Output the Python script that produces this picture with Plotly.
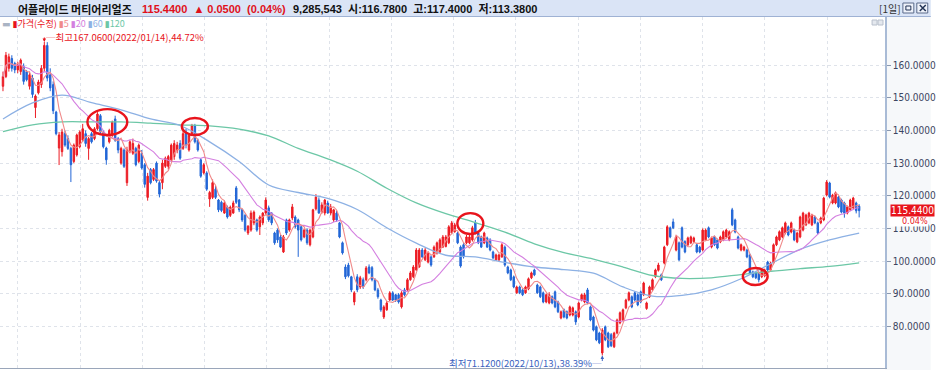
import plotly.graph_objects as go
import pandas as pd

# ---------------- data ----------------
opens = [153.5,156.5,159,162,160.5,158.5,158,159.5,158,153.5,156,147,151.5,154,159,166,157,154,145.6,134.6,
133.5,139,137.5,134.5,130.5,132.5,135,137,139,134.5,139,137.5,140.5,144.5,139.5,134.6,136.5,138.5,143.5,137.5,
130,134,124,133.5,133,134.5,130.5,133,129.5,119.5,128,125,130,124,124,129,129,131,132,134,
136,134.5,139.5,134,139,141.5,137,131,127,127,119,119.5,122,118.7,118,114.7,116.5,114,114.7,122.4,
118.7,115.7,114,108.6,109.5,111.7,112.6,110.5,111.7,114.7,116.3,114.7,108.6,109.5,107.4,102.8,112.6,109.5,113.2,113.5,
112.6,110.5,107.4,109.5,105,107.4,116,118.7,115,114.7,117.8,114.7,112.6,114.7,111.7,105.6,98.2,98.8,95.2,87.5,
95.2,92.1,94.3,94.3,98.2,98,94.3,91.2,88.1,82.9,85.1,88.1,90.3,89.7,89.7,86,91.2,91.2,94.3,95.2,
97.3,98.2,103.4,100.4,99.7,101.3,101.3,102.5,102.8,104.3,104.5,105.6,108.6,109,108.6,104.3,105,105.6,105.6,106.5,
111.7,108.6,107.4,105.6,107.1,106.5,102.8,100.4,100.4,101.3,104.3,98.2,97.3,95.2,90.3,92.1,91.2,90.3,91.5,94.9,
97.3,92.7,92.1,90.3,87.5,87.2,89.1,90.6,87.5,82.6,85.1,84.5,83.5,83.5,84.5,82.9,88.1,87.5,91.2,86,
82.9,79.9,78,71.9,79.9,78,77.5,73.8,78,81.1,82,85.7,88.1,89.1,90.3,89.7,90.6,89.7,85.5,89.1,
91.2,95.2,97.2,95.8,99.4,105,110.2,112,103.4,105.6,110.2,106,105,105.6,106,105,104.3,103.4,106.5,110.2,
104.3,107.4,106.5,105.9,106.5,107.4,106.5,115.7,112.6,107.4,103.4,103.4,103.4,101.9,96.7,96.4,96.4,95.2,95.5,99.7,
97.3,99.4,105,106.5,107.4,108.6,110.5,108.9,109.5,105.9,107.4,109.5,111.1,111.7,111.1,113.5,111.7,111.7,112.6,120.2,
123.9,117.8,117.8,119.6,118.7,117.8,114.7,115.7,116.3,117.8,116.78]
highs = [158,164,163.5,163,161,161,162,160.5,158.5,158,157,151,155.5,160,167.06,167,159,155,146,139.5,
140.5,140,138.5,135,136,139,140,142,140,138,139.5,141,145.6,145,140,135,140.5,143,144.5,138,
135,134.5,135,137,137.5,135,136,134,130,127,128.5,128.5,130.5,124.5,131,132,132.5,136,137,136.5,
137,140,140.5,139,142,142,137.5,131.5,130,127.5,121.5,125,123,119,118.5,118.5,117,117,118.5,123,
119,116,114.5,111,115.5,115.5,113,114,115,119.5,117,115,109,110,108,108,113,113,117.5,114,
113,111,110,110,110,116,120.5,119.5,118,119,118.5,117.5,116,115.5,112,106,99,99.5,95.5,90.8,
96,95.5,95,98.5,99,98.5,94.8,91.8,88.5,86.5,87.8,90.8,90.8,90,90.2,90.8,91.8,94.8,97,98.8,
104,104,104,104,103,101.8,104.8,106,107,108,108,111,112.3,111.7,109,104.8,105.5,108,108,110.8,
112.6,109,107.8,109,107.5,107,103.2,102.3,102.3,105.5,104.8,98.6,97.7,95.6,92.5,92.5,91.6,92.5,95,96.8,
97.7,93.1,92.5,90.7,90.1,90.5,89.5,91,87.9,84.9,85.5,84.9,86.4,86.1,84.9,87.6,90.1,90.3,91.8,86.4,
83.3,80.3,78.4,79.5,80.3,78.4,78,78.4,82.4,84.6,85.5,88.5,90.7,89.5,90.7,90.1,91,93.7,87.6,92.5,
94.7,97.7,99.5,96.2,104.7,111,110.6,113,107.8,106,110.6,106.4,107.5,107.8,107.5,105.4,104.7,110,110,110.6,
107.5,107.8,106.9,107.8,109.4,109.9,109.4,116.3,113,107.8,105.4,104.7,103.8,102.3,97.1,96.8,96.8,97.7,97.7,100.1,
99.8,105.4,107.8,109.4,110.6,112.1,110.9,112.1,109.9,109,113.9,115.1,114.5,115.1,114.5,113.9,112.1,113.6,119.7,124.8,
124.3,120.6,121.3,120,119.1,118.2,117,119.1,119.7,118.2,117.4]
lows = [152,156,158,158,157.5,157.5,157,154,155,152.5,150,143.8,151,153,158,155,152,145,138.5,129.4,
132,135,134,124.2,130,132,134.5,136.5,135,131,136,137,140,139,134.5,129.5,136,138,136.5,133,
129.5,128.5,123,133,132.5,129,130,128,122.5,118.5,123.5,124.5,124,119.5,122,128.5,128,130.5,131,133,
131,134,134.5,133.5,138.5,136,133.5,125.5,126.5,121.5,116.6,119,119,115,115,114.5,113,113.5,114.5,117.5,
115,112,109,108,109,111,109,108,111,114,112,111,105,105.6,104,102.5,108,109,112.5,110,
101.3,106,107,105,104.5,107,115.5,114.5,114.5,114,114.5,114,112,112,107,102,94.5,95,90.5,86.5,
90.5,91.5,91.5,93.8,96,93.8,90.8,88.5,84.5,82.3,84.8,87.8,87.8,87.5,87,85.5,89.2,90.8,94,94.8,
97,98,101,100,99.3,98.3,101,102,102.3,104,104.2,105.2,108.2,108.7,105.2,98,100.8,105.2,105.2,106,
108.2,105.2,104,105.2,104,103,100.6,100,100,101,98.3,96,93.9,91.7,90,89.9,89.3,90,91.1,94.5,
95.4,90,88.7,87.1,87.1,86.8,86.8,85.6,84.1,82.2,82.5,82.2,83.1,83.1,80.5,82.5,87.7,87.1,86.8,81.6,
78.5,75.5,74.6,71.12,75.5,73.4,73.7,73.4,77.6,80.7,81.6,85.3,87.7,85.6,87.7,86.2,87.1,89.3,85.1,88.7,
90.8,94.8,96.8,93.9,99,104.6,107,109.8,103,100,103.9,102.4,104.6,105.2,105.6,102.4,102.4,103,106.1,107,
103.9,104.6,103.6,105.5,106.1,107,106.1,110.7,108.5,103.6,103,103,100.9,96,94.8,94.5,93.5,94.8,95.1,96.9,
96.9,99,104.6,106.1,107,108.2,107.6,108.5,106.1,105.5,107,109.1,110.7,111.3,110.7,111.3,108.2,111.3,112.2,119.8,
119.2,117.4,117.4,116.2,114.6,113.3,114.3,115.3,115.9,114.6,113.38]
closes = [156.5,163,162.5,159,158.5,160,161.5,155,155.5,157,151,150.5,154.8,159,166,156,153,146,139,138.6,
139.5,135.5,134.5,129.5,135.5,138.6,139.5,140.5,136,137.5,136.5,140.5,145,139.5,135,131,140,142.5,137,134,
134.5,129,134,136.5,136,129.5,135.5,128.5,123.5,126,124,128,124.5,120.5,130,131.5,132,135.5,136,135.5,
131.5,139,135.5,138.5,141.5,136.5,134,126,129.5,122,121,124,119.5,115.7,115.5,117.8,113.5,116.5,117.8,118,
115.7,112.6,109.5,110.7,114.7,115,109.5,113.5,114.7,118.7,112.6,111.7,105.6,106.5,104.3,107.4,108.6,112.6,116.6,110.5,
109.5,106.5,109.5,105.6,109.5,115.7,119.6,114.7,117.2,118.7,114.7,116.6,115.7,112.6,107.4,102.5,95.2,95.5,91.2,90.3,
91.2,94.9,92.1,97.9,96.4,94.3,91.2,89.1,85.1,86,87.2,90.3,88.1,88.1,87.5,90.3,89.7,94.3,96.4,98.2,
103.4,103.4,101.3,103.4,102.5,98.8,104.3,105.6,106.5,107.4,107.4,110.5,111.7,111.1,105.6,98.5,101.3,107.4,107.4,110.2,
108.6,105.6,104.3,108.6,104.3,103.4,101,101.9,101.9,105,98.8,96.4,94.3,92.1,92.1,90.3,89.7,92.1,94.6,96.4,
95.8,90.3,89.1,87.5,89.7,89.7,87.2,86,84.5,84.5,82.9,82.6,86,85.7,81.4,87.2,89.7,89.7,87.2,82,
78.9,75.9,75,78.9,75.9,73.8,74.1,78,82,84.2,85.1,88.1,90.3,86,88.1,86.6,87.5,93.3,87.2,92.1,
94.3,97.3,98.8,94.3,104.3,110.5,107.4,110.2,107.4,100.4,104.3,102.8,107.1,107.4,107.1,102.8,102.8,109.5,109.5,107.4,
107.1,105,104,107.4,109,109.5,109,111.1,108.9,104,105,104.3,101.3,96.4,95.2,94.9,94.3,97.3,97.3,97.3,
99.4,105,107.4,109,110.2,111.7,108,111.7,106.5,108.6,113.5,114.7,114.1,114.7,114.1,111.7,108.6,113.2,119.3,124.2,
119.6,120.2,120.9,116.6,115,114.7,116.6,118.7,119.3,115.39,115.44]

# 60- and 120-day averages, every 10th candle
ma_sample_idx = list(range(0, 291, 10))
ma60_vals = [143.5,148.4,150.8,148.5,146.3,143.5,141.5,136.5,130.5,123.3,121,119.2,115.8,110.2,105.5,
             101.8,101.3,99.6,98.2,97.4,96.3,92.1,89.3,89.5,91.2,94.6,99.2,103.6,106.5,108.6]
ma120_vals = [139.6,141.7,142.6,142.6,142.6,142.2,141.7,141.4,140.4,138.3,134.5,131.3,127.5,122.3,117.8,
              114.5,111.8,108.9,105.3,102.6,100.6,98.2,95.6,94.7,94.9,95.9,96.9,97.7,98.4,99.5]

stock_name = "어플라이드 머티어리얼즈"
volume = 9285543
high_date = "2022/01/14"
low_date = "2022/10/13"
y_ticks = [80, 90, 100, 110, 120, 130, 140, 150, 160]

# ---------------- figure ----------------
W, H = 936, 370
ML, MR, MT, MB = 0, 46, 17, 2
PW, PH = W - ML - MR, H - MT - MB
def px(x):  # pixel -> paper x
    return (x - ML) / PW
def py(y):  # pixel -> paper y
    return (H - MB - y) / PH

RED = "#ec1c24"
BLUE = "#2266d6"
idx = list(range(len(closes)))
cs = pd.Series(closes)
ma5 = cs.rolling(5, min_periods=1).mean()
ma20 = cs.rolling(20, min_periods=1).mean()

fig = go.Figure()
fig.add_trace(go.Candlestick(
    x=idx, open=opens, high=highs, low=lows, close=closes,
    increasing=dict(line=dict(color=RED, width=1), fillcolor=RED),
    decreasing=dict(line=dict(color=BLUE, width=1), fillcolor=BLUE),
    whiskerwidth=0, hoverinfo="skip", showlegend=False))
fig.add_trace(go.Scatter(x=ma_sample_idx, y=ma120_vals, mode="lines", line_shape="spline",
                         line=dict(color="#6cc7a6", width=1.3), hoverinfo="skip", showlegend=False))
fig.add_trace(go.Scatter(x=ma_sample_idx, y=ma60_vals, mode="lines", line_shape="spline",
                         line=dict(color="#8db1e4", width=1.3), hoverinfo="skip", showlegend=False))
fig.add_trace(go.Scatter(x=idx, y=ma20, mode="lines",
                         line=dict(color="#d47fe0", width=1.1), hoverinfo="skip", showlegend=False))
fig.add_trace(go.Scatter(x=idx, y=ma5, mode="lines",
                         line=dict(color="#f08a8a", width=1.1), hoverinfo="skip", showlegend=False))

n = len(closes)
step = (864 - 3) / (n - 1)
x0 = -3 / step
x1 = (PW - 3) / step
yr = (67.3, 174.7)

shapes = []
# header bar
shapes.append(dict(type="rect", xref="paper", yref="paper", x0=px(0), x1=px(W), y0=py(17), y1=py(0),
                   fillcolor="#dae4f6", line=dict(width=0), layer="above"))
shapes.append(dict(type="line", xref="paper", yref="paper", x0=px(0), x1=px(W), y0=py(16.5), y1=py(16.5),
                   line=dict(color="#9fb2d4", width=1), layer="above"))
# header buttons
for bx in (908, 922):
    shapes.append(dict(type="rect", xref="paper", yref="paper", x0=px(bx), x1=px(bx + 11), y0=py(13), y1=py(3),
                       fillcolor="#eef2fa", line=dict(color="#5a6a8a", width=1), layer="above"))
shapes.append(dict(type="rect", xref="paper", yref="paper", x0=px(911), x1=px(916), y0=py(10), y1=py(6),
                   fillcolor="rgba(0,0,0,0)", line=dict(color="#223355", width=1), layer="above"))
shapes.append(dict(type="path", xref="paper", yref="paper",
                   path=f"M{px(925)},{py(5)} L{px(931)},{py(11)} M{px(931)},{py(5)} L{px(925)},{py(11)}",
                   line=dict(color="#223355", width=1.5), layer="above"))
# tiny icons inside the plot, top right
for bx in (877, 883):
    shapes.append(dict(type="rect", xref="paper", yref="paper", x0=px(bx), x1=px(bx + 5), y0=py(25), y1=py(20),
                       fillcolor="#e4e8ee", line=dict(color="#b8c0cc", width=1), layer="above"))
# right axis panel
shapes.append(dict(type="rect", xref="paper", yref="paper", x0=px(890), x1=px(W), y0=py(H), y1=py(17),
                   fillcolor="#f6f8fa", line=dict(width=0), layer="below"))
# red ellipses (index range, price range)
ellipses = [(28.6, 42.1, 138.6, 146.5), (60.6, 69.4, 138.6, 143.8),
            (153.9, 162.7, 108.3, 114.7), (250.6, 259.0, 92.7, 97.9)]
for a, b, c, d in ellipses:
    shapes.append(dict(type="circle", xref="x", yref="y", x0=a, x1=b, y0=c, y1=d,
                       line=dict(color="#e8141c", width=2.4), layer="above"))

ann = []
NUMF = "Liberation Sans, Noto Sans CJK KR"
chg = closes[-1] - closes[-2]
pct = chg / closes[-2] * 100
ann.append(dict(xref="paper", yref="paper", x=px(17), y=py(8.5), xanchor="left", yanchor="middle",
                text=f"<b>{stock_name}</b>", showarrow=False, borderpad=0,
                font=dict(family="Noto Sans CJK KR", size=11, color="#111111")))
ann.append(dict(xref="paper", yref="paper", x=px(142), y=py(8.5), xanchor="left", yanchor="middle",
                text=f"<b>{closes[-1]:.4f}  ▲ {chg:.4f}  ({pct:.2f}%)</b>", showarrow=False, borderpad=0,
                font=dict(family=NUMF, size=11, color="#e0101a")))
ann.append(dict(xref="paper", yref="paper", x=px(294), y=py(8.5), xanchor="left", yanchor="middle",
                text=f"<b>{volume:,}  시:{opens[-1]:.4f}  고:{highs[-1]:.4f}  저:{lows[-1]:.4f}</b>",
                showarrow=False, borderpad=0, font=dict(family=NUMF, size=11, color="#111111")))
ann.append(dict(xref="paper", yref="paper", x=px(907), y=py(8.5), xanchor="right", yanchor="middle",
                text="[1일]", showarrow=False, borderpad=0,
                font=dict(family="Noto Sans CJK KR", size=10, color="#333333")))
# legend row
lg = ("<span style='color:#aab4c4'>▬</span> "
      "<span style='color:#e8141c'>▮가격(수정)</span> "
      "<span style='color:#f08a8a'>▮5</span> "
      "<span style='color:#d47fe0'>▮20</span> "
      "<span style='color:#8db1e4'>▮60</span> "
      "<span style='color:#6cc7a6'>▮120</span>")
ann.append(dict(xref="paper", yref="paper", x=px(1), y=py(23.5), xanchor="left", yanchor="middle",
                text=lg, showarrow=False, borderpad=0,
                font=dict(family="Noto Sans CJK KR, DejaVu Sans", size=9)))
# max / min notes
imax = max(range(n), key=lambda i: highs[i])
imin = min(range(n), key=lambda i: lows[i])
hmax, lmin, last = highs[imax], lows[imin], closes[-1]
ann.append(dict(x=imax, y=hmax, xref="x", yref="y", text="", showarrow=True, arrowhead=2,
                arrowsize=0.7, arrowwidth=1, arrowcolor="#e8141c", ax=0, ay=-6))
ann.append(dict(x=imax, y=hmax, xref="x", yref="y", xanchor="left", yanchor="middle", xshift=1, yshift=5,
                text=f"─최고{hmax:.4f}({high_date}),{(hmax - last) / last * 100:.2f}%", showarrow=False,
                borderpad=0, font=dict(family="Noto Sans CJK KR, DejaVu Sans", size=9.5, color="#e8141c")))
ann.append(dict(x=imin, y=lmin, xref="x", yref="y", text="", showarrow=True, arrowhead=2,
                arrowsize=0.7, arrowwidth=1, arrowcolor="#3a62c0", ax=0, ay=7))
ann.append(dict(x=imin, y=lmin, xref="x", yref="y", xanchor="right", yanchor="middle", xshift=1, yshift=-7,
                text=f"최저{lmin:.4f}({low_date}),{(last - lmin) / last * 100:.2f}%─", showarrow=False,
                borderpad=0, font=dict(family="Noto Sans CJK KR, DejaVu Sans", size=9.5, color="#3a62c0")))
# current price label on the axis
ann.append(dict(xref="paper", yref="y", x=px(934), y=last, xanchor="right", yanchor="middle", yshift=-10.5,
                text=f"{pct:.2f}%", showarrow=False, bgcolor="white", borderpad=0, width=38, align="right",
                font=dict(family="DejaVu Sans Condensed, DejaVu Sans", size=9, color="#e8141c")))
ann.append(dict(xref="paper", yref="y", x=px(895.5), y=last, xanchor="left", yanchor="middle",
                text=f"{last:.4f}", showarrow=False, bgcolor="#e8141c", borderpad=0,
                font=dict(family="DejaVu Sans Condensed, DejaVu Sans", size=10, color="white")))

fig.update_layout(
    width=W, height=H, margin=dict(l=ML, r=MR, t=MT, b=MB),
    paper_bgcolor="white", plot_bgcolor="white",
    shapes=shapes, annotations=ann, showlegend=False,
    xaxis=dict(range=[x0, x1], rangeslider=dict(visible=False), showticklabels=False,
               showgrid=True, gridcolor="#dfe3ea", griddash="dot", gridwidth=1,
               tick0=(18 - 3) / step, dtick=62.6 / step, zeroline=False,
               showline=True, linecolor="#9aa6ba", linewidth=1, ticks=""),
    yaxis=dict(range=list(yr), side="right", tickvals=y_ticks,
               ticktext=[f"{v:.4f}" for v in y_ticks], ticks="outside", ticklen=4,
               tickcolor="#8a98b0", showgrid=True, gridcolor="#dfe3ea", griddash="dot",
               zeroline=False, showline=True, linecolor="#a9bbd6", linewidth=1.5,
               tickfont=dict(family="DejaVu Sans Condensed, DejaVu Sans", size=10, color="#3c4560")),
)
fig.write_html("out.html", config={"displayModeBar": False},
               post_script="document.body.style.margin='0';document.body.style.overflow='hidden';")
